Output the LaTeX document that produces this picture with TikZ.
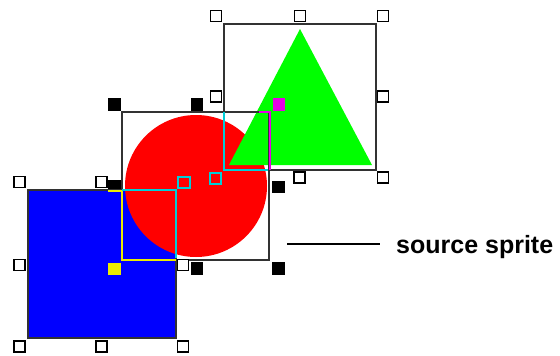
\documentclass[tikz,border=0pt]{standalone}
\usepackage{fontspec}
\setmainfont{Liberation Sans}
\definecolor{sblue}{RGB}{0,0,255}
\definecolor{sred}{RGB}{255,0,0}
\definecolor{sgreen}{RGB}{0,255,0}
\definecolor{scyan}{RGB}{0,205,215}
\definecolor{syellow}{RGB}{235,235,0}
\definecolor{smag}{RGB}{230,0,230}
\definecolor{sframe}{RGB}{50,50,50}
\begin{document}
\begin{tikzpicture}[x=1pt,y=-1pt,
  frame/.style={draw=sframe, line width=1.6pt},
  whandle/.style={rectangle, draw=black, fill=white, line width=1.8pt, minimum size=11pt, inner sep=0pt},
  bhandle/.style={rectangle, fill=black, minimum size=12.5pt, inner sep=0pt},
  hline/.style={line width=1.8pt},
  hbox/.style={rectangle, line width=1.6pt, minimum size=11.5pt, inner sep=0pt}]
\useasboundingbox (0,0) rectangle (560,356);
% circle sprite handles (black)
\node[bhandle] (c1) at (114.5,104.5) {};
\node[bhandle] (c2) at (197,104.5) {};
\node[bhandle] (c4) at (114.5,186) {};
\node[bhandle] (c6) at (278.5,187) {};
\node[bhandle] (c8) at (197,268.5) {};
\node[bhandle] (c9) at (278.5,268.5) {};
% blue square sprite
\filldraw[fill=sblue, frame] (28,190) rectangle (176,338);
% red circle sprite
\fill[sred] (196,186) circle[radius=71];
% green triangle sprite
\fill[sgreen] (300,29) -- (372,165) -- (229,165) -- cycle;
% frames
\draw[frame] (122,112) rectangle (269,260);
\draw[frame] (224,24) rectangle (376,170);
% intersection outlines
\draw[hline, syellow] (108,191) -- (122,191);
\draw[hline, syellow] (122,190) -- (122,260) -- (176,260);
\draw[hline, scyan] (122,190) -- (176,190) -- (176,258);
\draw[hline, scyan] (224,112) -- (224,170) -- (268,170);
\draw[hline, smag] (259,112) -- (270,112) -- (270,170);
% blue square handles (white)
\node[whandle] (b1) at (19.5,182) {};
\node[whandle] (b2) at (101.5,182) {};
\node[whandle] (b4) at (19.5,265) {};
\node[whandle] (b6) at (183,265) {};
\node[whandle] (b7) at (19.5,346.5) {};
\node[whandle] (b8) at (101.5,346.5) {};
\node[whandle] (b9) at (183,346.5) {};
% triangle handles (white)
\node[whandle] (t1) at (216,16) {};
\node[whandle] (t2) at (300,16) {};
\node[whandle] (t3) at (383,16) {};
\node[whandle] (t4) at (216,96.5) {};
\node[whandle] (t6) at (383,96.5) {};
\node[whandle] (t8) at (299.5,177.5) {};
\node[whandle] (t9) at (383,177.5) {};
% coloured hot-spot handles
\node[hbox, draw=scyan] (cy1) at (184,182.5) {};
\node[hbox, draw=scyan] (cy2) at (215.5,178.5) {};
\node[hbox, fill=syellow, minimum size=12.5pt] (ye) at (114.5,269) {};
\node[hbox, fill=smag, minimum size=12.5pt] (ma) at (279,104.5) {};
% label
\node[anchor=base west, inner sep=0pt, font=\bfseries\fontsize{25}{25}\selectfont] (lbl) at (396,253) {source sprite};
\coordinate (lineL) at (287,244);
\draw[line width=1.4pt, black, shorten >=16pt] (lineL) -- (lineL -| lbl.west);
\end{tikzpicture}
\end{document}
